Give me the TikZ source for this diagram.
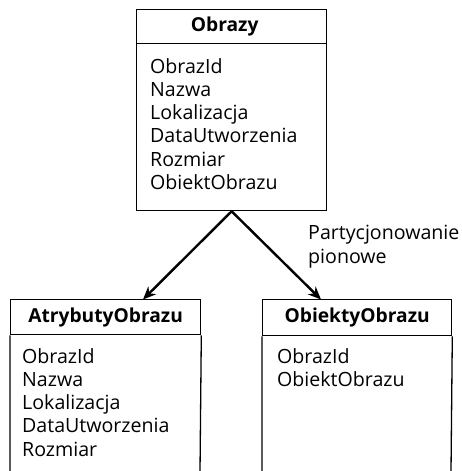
\documentclass[tikz,border=0pt]{standalone}
\usepackage{fontspec}
\setmainfont{Open Sans}
\usetikzlibrary{arrows.meta,positioning}
\begin{document}
\begin{tikzpicture}[x=1pt,y=-1pt,
  box/.style={draw,line width=1.3pt,inner sep=0pt,anchor=north west},
  head/.style={box,font=\bfseries\fontsize{19.2}{22}\selectfont},
  field/.style={anchor=north west,inner sep=0pt,align=left,
    font=\fontsize{19.6}{23.2}\selectfont},
  link/.style={line width=2.4pt,-{Stealth[length=13pt,width=11pt]}}]
\useasboundingbox (0,0) rectangle (462,471);
% table Obrazy
\node[head,minimum width=190pt,minimum height=34pt] (th) at (136,9) {Obrazy\hspace*{14pt}};
\node[box,minimum width=190pt,minimum height=167pt] (tb) at (136,43) {};
\node[field] (tf) at (150,58.2) {ObrazId\\Nazwa\\Lokalizacja\\DataUtworzenia\\Rozmiar\\ObiektObrazu};
% table AtrybutyObrazu (continues below the page edge)
\node[head,minimum width=190pt,minimum height=35pt] (lh) at (10,299) {AtrybutyObrazu};
\draw[line width=1.3pt] (lh.south west) -- (10,472) (lh.south east) -- (200,472);
\node[field] (lf) at (22,348.2) {ObrazId\\Nazwa\\Lokalizacja\\DataUtworzenia\\Rozmiar};
% table ObiektyObrazu (continues below the page edge)
\node[head,minimum width=189pt,minimum height=36pt] (rh) at (262,299) {ObiektyObrazu};
\draw[line width=1.3pt] (rh.south west) -- (262,472) (rh.south east) -- (451,472);
\node[field] (rf) at (277,348.2) {ObrazId\\ObiektObrazu};
% partition arrows
\coordinate (lt) at (143,299.5);
\coordinate (rt) at (321,299.5);
\draw[link] (tb.south) -- (lt);
\draw[link] (tb.south) -- (rt);
\node[field,font=\fontsize{19.6}{24.5}\selectfont] (lbl) at (308,224.5) {Partycjonowanie\\pionowe};
\end{tikzpicture}
\end{document}
